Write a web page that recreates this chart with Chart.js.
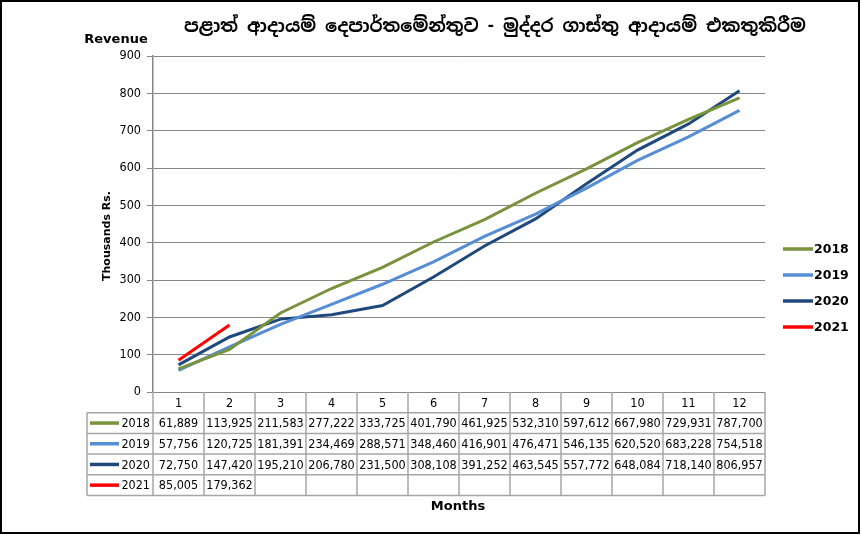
<!DOCTYPE html>
<html>
<head>
<meta charset="utf-8">
<script src="https://cdn.jsdelivr.net/npm/chart.js@4"></script>
<style>
html,body{margin:0;padding:0;background:#fff;}
#wrap{width:862px;height:535px;position:relative;}
canvas{display:block;}
</style>
</head>
<body>
<div id="wrap"><canvas id="c" width="862" height="535"></canvas></div>
<script>
const months = ['1','2','3','4','5','6','7','8','9','10','11','12'];
const seriesNames = ['2018','2019','2020','2021'];
const rev2018 = [61889,113925,211583,277222,333725,401790,461925,532310,597612,667980,729931,787700];
const rev2019 = [57756,120725,181391,234469,288571,348460,416901,476471,546135,620520,683228,754518];
const rev2020 = [72750,147420,195210,206780,231500,308108,391252,463545,557772,648084,718140,806957];
const rev2021 = [85005,179362];
const yTicks = [0,100,200,300,400,500,600,700,800,900];
const colors = ['#77933C','#558ED5','#1F497D','#FF0000'];
const titleText = 'පළාත් ආදායම් දෙපාර්තමේන්තුව - මුද්දර ගාස්තු ආදායම් එකතුකිරීම';
const allSeries = [rev2018, rev2019, rev2020, rev2021];

const FONT = '"DejaVu Sans", Verdana, sans-serif';
const NFONT = '"DejaVu Sans Condensed", "Liberation Sans", sans-serif';
const fmt = v => v.toLocaleString('en-US');

const extras = {
  id: 'extras',
  afterDraw(chart) {
    const ctx = chart.ctx;
    const xs = chart.scales.x, ys = chart.scales.y;
    const right = chart.chartArea.right;
    const axisY = ys.getPixelForValue(0);
    const rowH = 20.7;
    const tableLeft = 87;
    const half = (xs.getPixelForValue(1) - xs.getPixelForValue(0)) / 2;
    ctx.save();
    ctx.strokeStyle = '#A6A6A6';
    ctx.lineWidth = 1.5;
    const nRows = allSeries.length;
    const tableBottom = axisY + rowH * (nRows + 1);
    ctx.beginPath();
    for (let i = 0; i <= months.length; i++) {
      const x = (i < months.length ? xs.getPixelForValue(i) - half : xs.getPixelForValue(months.length - 1) + half);
      ctx.moveTo(x, axisY); ctx.lineTo(x, tableBottom);
    }
    ctx.moveTo(tableLeft, axisY + rowH); ctx.lineTo(tableLeft, tableBottom);
    for (let r = 1; r <= nRows + 1; r++) {
      const y = axisY + rowH * r;
      ctx.moveTo(tableLeft, y); ctx.lineTo(right, y);
    }
    ctx.stroke();
    ctx.fillStyle = '#000';
    ctx.font = '12.5px ' + NFONT;
    ctx.textAlign = 'center';
    ctx.textBaseline = 'middle';
    months.forEach((m, i) => ctx.fillText(m, xs.getPixelForValue(i), axisY + rowH / 2 + 1));
    allSeries.forEach((arr, r) => {
      const yc = axisY + rowH * (r + 1.5) + 1;
      ctx.font = '12.5px ' + NFONT;
      ctx.textAlign = 'center';
      ctx.fillStyle = '#000';
      arr.forEach((v, i) => ctx.fillText(fmt(v), xs.getPixelForValue(i), yc));
      ctx.strokeStyle = colors[r];
      ctx.lineWidth = 3.5;
      ctx.beginPath(); ctx.moveTo(90, yc - 1); ctx.lineTo(119, yc - 1); ctx.stroke();
      ctx.textAlign = 'right';
      ctx.fillText(seriesNames[r], 150, yc);
    });
    const legY = [249, 275, 301, 327];
    seriesNames.forEach((n, i) => {
      ctx.strokeStyle = colors[i];
      ctx.lineWidth = 3.5;
      ctx.beginPath(); ctx.moveTo(783, legY[i]); ctx.lineTo(813, legY[i]); ctx.stroke();
      ctx.fillStyle = '#000';
      ctx.font = 'bold 12.5px ' + FONT;
      ctx.textAlign = 'left';
      ctx.fillText(n, 814, legY[i] + 1);
    });
    ctx.font = 'bold 18px "Noto Sans Sinhala", "Iskoola Pota", "Noto Sans", "DejaVu Sans", sans-serif';
    ctx.textAlign = 'center';
    ctx.fillStyle = '#000';
    ctx.fillText(titleText, 495, 27);
    ctx.font = 'bold 13px ' + FONT;
    ctx.fillText('Revenue', 116, 40);
    ctx.fillText('Months', 458, 507);
    ctx.save();
    ctx.translate(107, 236);
    ctx.rotate(-Math.PI / 2);
    ctx.font = 'bold 11px ' + FONT;
    ctx.fillText('Thousands Rs.', 0, 0);
    ctx.restore();
    ctx.strokeStyle = '#000';
    ctx.lineWidth = 2;
    ctx.strokeRect(1, 1, 858, 532);
    ctx.restore();
  }
};

new Chart(document.getElementById('c'), {
  type: 'line',
  data: {
    labels: months,
    datasets: allSeries.map((arr, i) => ({
      label: seriesNames[i],
      data: arr.map(v => v / 1000),
      borderColor: colors[i],
      backgroundColor: colors[i],
      borderWidth: 3,
      pointRadius: 0,
      tension: 0,
      fill: false
    }))
  },
  options: {
    responsive: false,
    animation: false,
    layout: { padding: { top: 56, right: 97, left: 0, bottom: 0 } },
    plugins: { legend: { display: false }, title: { display: false }, tooltip: { enabled: false } },
    scales: {
      x: {
        offset: true,
        grid: { display: false },
        border: { display: false },
        ticks: { display: false },
        afterFit(s) { s.height = 143; }
      },
      y: {
        min: 0, max: 900,
        afterBuildTicks(s) { s.ticks = yTicks.map(v => ({ value: v })); },
        grid: { color: '#868686', lineWidth: 1, tickLength: 6 },
        border: { color: '#868686', width: 1.5 },
        ticks: { color: '#000', font: { size: 12.5, family: NFONT }, padding: 6 },
        afterFit(s) { s.width = 153; }
      }
    }
  },
  plugins: [extras]
});
</script>
</body>
</html>
